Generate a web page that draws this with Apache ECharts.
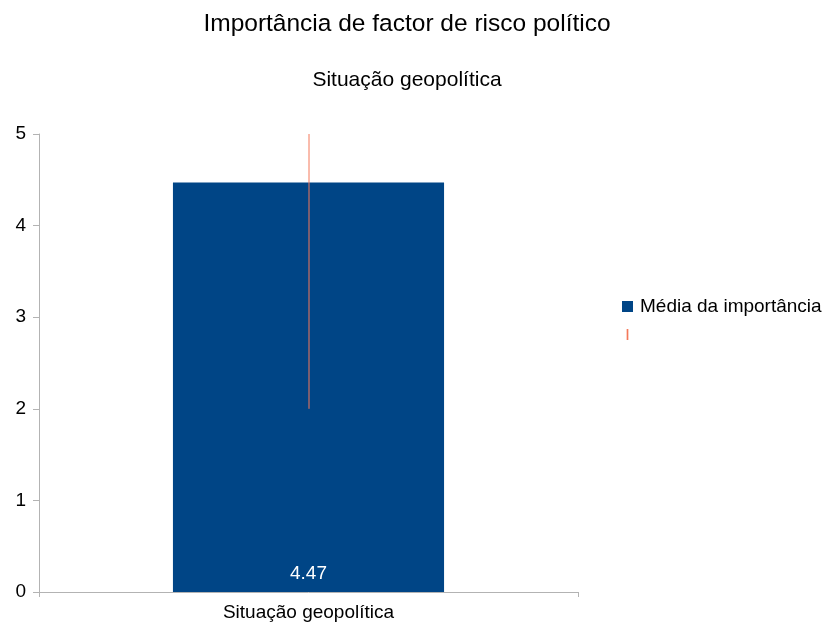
<!DOCTYPE html>
<html>
<head>
<meta charset="utf-8">
<script src="https://cdn.jsdelivr.net/npm/echarts@6/dist/echarts.min.js"></script>
<style>
  html, body { margin: 0; padding: 0; background: #fff; }
  #main { width: 826px; height: 630px; }
</style>
</head>
<body>
<div id="main"></div>
<script>
var categories = ['Situação geopolítica'];
var meanValues = [4.47];
var errLow = [2];
var errHigh = [5];
var yTicks = [0, 1, 2, 3, 4, 5];

var chart = echarts.init(document.getElementById('main'));
var font = '"Liberation Sans", Arial, sans-serif';
var errColor = '#f4795b';

var option = {
  animation: false,
  textStyle: { fontFamily: font },
  title: [{
    text: 'Importância de factor de risco político',
    left: 402, top: 7, textAlign: 'center',
    textStyle: { fontSize: 24.5, fontWeight: 'normal', color: '#000', fontFamily: font }
  }, {
    text: 'Situação geopolítica',
    left: 402, top: 65, textAlign: 'center',
    textStyle: { fontSize: 21, fontWeight: 'normal', color: '#000', fontFamily: font }
  }],
  legend: {
    orient: 'vertical',
    left: 622, top: 297, padding: 0,
    itemWidth: 11, itemHeight: 11, itemGap: 9,
    textStyle: { fontSize: 19, color: '#000', fontFamily: font, padding: [0, 0, 0, 2] },
    data: [
      { name: 'Média da importância', icon: 'rect', itemStyle: { color: '#004586' } },
      { name: ' ', icon: 'path://M0,0 L2,0 L2,13 L0,13 Z', itemStyle: { color: errColor } }
    ]
  },
  grid: { left: 39, right: 248, top: 134, bottom: 38 },
  xAxis: {
    type: 'category',
    data: categories,
    axisLine: { lineStyle: { color: '#b3b3b3' } },
    axisTick: { show: true, lineStyle: { color: '#b3b3b3' } },
    axisLabel: { color: '#000', fontSize: 19, margin: 11, fontFamily: font }
  },
  yAxis: {
    type: 'value',
    min: 0, max: 5, interval: 1,
    axisLine: { show: true, lineStyle: { color: '#b3b3b3' } },
    axisTick: { show: true, length: 6, lineStyle: { color: '#b3b3b3' } },
    splitLine: { show: false },
    axisLabel: {
      color: '#000', fontSize: 19, margin: 13, fontFamily: font,
      formatter: function (v) { return yTicks.indexOf(v) >= 0 ? String(v) : ''; }
    }
  },
  series: [{
    name: 'Média da importância',
    type: 'bar',
    data: meanValues,
    barWidth: '50.3%',
    itemStyle: { color: '#004586' },
    label: {
      show: true, position: 'insideBottom', distance: 9,
      color: '#fff', fontSize: 19, fontFamily: font,
      formatter: function (p) { return p.value.toFixed(2); }
    }
  }, {
    name: ' ',
    type: 'custom',
    itemStyle: { color: errColor },
    data: categories.map(function (c, i) { return [i, errLow[i], errHigh[i]]; }),
    renderItem: function (params, api) {
      var p1 = api.coord([api.value(0), api.value(1)]);
      var p2 = api.coord([api.value(0), api.value(2)]);
      return {
        type: 'line',
        shape: { x1: p1[0] + 0.5, y1: p1[1], x2: p2[0] + 0.5, y2: p2[1] },
        style: { stroke: errColor, lineWidth: 1 }
      };
    },
    z: 10
  }]
};

chart.setOption(option);
</script>
</body>
</html>
